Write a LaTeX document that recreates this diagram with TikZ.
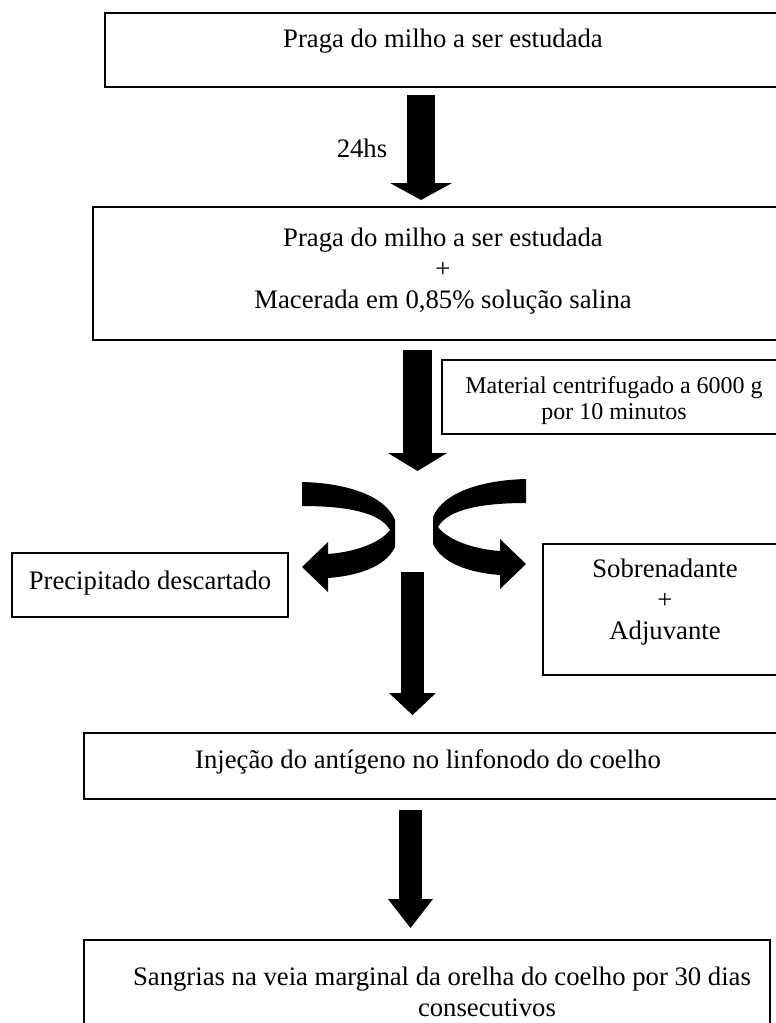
\documentclass[tikz,border=0pt]{standalone}
\usepackage{fontspec}
\setmainfont{Liberation Serif}
\usetikzlibrary{arrows.meta}
\begin{document}
\begin{tikzpicture}[x=1pt,y=-1pt,
		boxline/.style={draw=black,line width=1.3pt},
		txt/.style={align=center,inner sep=0pt,font=\fontsize{26.7}{30.7}\selectfont},
		smalltxt/.style={align=center,inner sep=0pt,font=\fontsize{24}{26}\selectfont},
		blockarrow/.style n args={3}{line width=#1,-{Triangle[width=#2,length=#3,line width=0pt]}}]
		\fill[color=white] (0,0) rectangle (776,1023);
		\clip (0,0) rectangle (776,1023);
		\draw[boxline,line width=1.6pt] (105,13) rectangle (790,87);
		\node[txt] (praga) at (443,41) {Praga do milho a ser estudada};
		\node[txt] (horas) at (362,148) {24hs};
		\coordinate (a1s) at (421,95);
		\coordinate (a1e) at (421,200);
		\draw[blockarrow={28pt}{62pt}{17pt}] (a1s) -- (a1e);
		\draw[boxline,line width=1.6pt] (93,207) rectangle (790,340);
		\node[txt] (macerada) at (443,271) {Praga do milho a ser estudada\\+\\Macerada em 0,85\% solução salina};
		\coordinate (a2s) at (417.5,350);
		\coordinate (a2e) at (417.5,471);
		\draw[blockarrow={29pt}{59pt}{18pt}] (a2s) -- (a2e);
		\draw[boxline] (442,360) rectangle (790,434);
		\node[smalltxt] (centrif) at (614,401) {Material centrifugado a 6000 g\\por 10 minutos};
		\fill (302,482) .. controls (345,483) and (385,495) .. (395,520) -- (395,547) .. controls (385,568) and (355,576) .. (328,578) -- (328,592) -- (302,567) -- (328,542) -- (328,554) .. controls (355,552) and (380,543) .. (390,530) .. controls (380,512) and (345,506) .. (302,506) -- cycle;
		\begin{scope}[xshift=828pt,yshift=3pt,xscale=-1]
			\fill (302,482) .. controls (345,483) and (385,495) .. (395,520) -- (395,547) .. controls (385,568) and (355,576) .. (328,578) -- (328,592) -- (302,567) -- (328,542) -- (328,554) .. controls (355,552) and (380,543) .. (390,530) .. controls (380,512) and (345,506) .. (302,506) -- cycle;
		\end{scope}
		\draw[boxline] (12,553) rectangle (288,617);
		\node[txt] (precip) at (150,583) {Precipitado descartado};
		\draw[boxline] (543,544) rectangle (790,675);
		\node[txt] (sobren) at (665,602) {Sobrenadante\\+\\Adjuvante};
		\coordinate (a3s) at (412.5,572);
		\coordinate (a3e) at (412.5,715);
		\draw[blockarrow={23pt}{47pt}{22pt}] (a3s) -- (a3e);
		\draw[boxline] (84,733) rectangle (790,799);
		\node[txt] (injecao) at (428,762) {Injeção do antígeno no linfonodo do coelho};
		\coordinate (a4s) at (410.5,810);
		\coordinate (a4e) at (410.5,928);
		\draw[blockarrow={23pt}{45pt}{29pt}] (a4s) -- (a4e);
		\draw[boxline] (84,940) rectangle (770,1040);
		\node[txt] (sangria) at (442,992) {Sangrias na veia marginal da orelha do coelho por 30 dias\\\hspace*{90pt}consecutivos};
\end{tikzpicture}
\end{document}
